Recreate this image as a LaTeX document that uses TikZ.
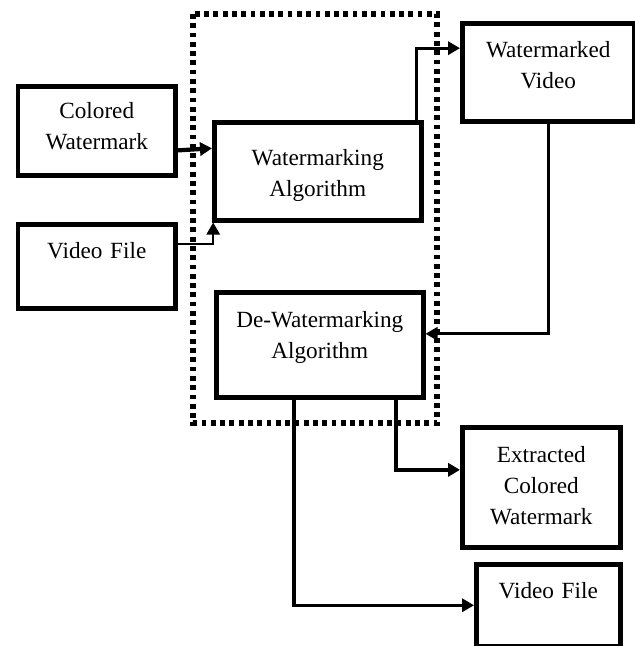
\documentclass[tikz,border=0pt]{standalone}
\usepackage{fontspec}
\setmainfont{Liberation Serif}
\usetikzlibrary{arrows.meta,calc}

\tikzset{
  blk/.style={draw, line width=3.2pt, anchor=north west, align=center, inner sep=0pt,
    font=\fontsize{16.5}{22}\selectfont, text height=0.85cm},
  lnk/.style={line width=2pt, -{Triangle[length=0.3cm,width=0.33cm]}},
  grp/.style={line width=3.6pt, dash pattern=on 3.4pt off 3.2pt},
}

\begin{document}
\begin{tikzpicture}[x=0.025cm, y=-0.025cm]
    \useasboundingbox (0,0) rectangle (635,646);

    % -- Cadre pointille --
    \draw[grp] (193,14) rectangle (437,423);

    % -- Entrees --
    \node[blk, text width=3.925cm, text height=0.8cm, text depth=1.425cm] (cw) at (16,84) {Colored\\Watermark};
    \node[blk, text width=3.925cm, text depth=1.25cm] (vf1) at (16,222) {Video File};

    % -- Algorithmes --
    \node[blk, text width=5.175cm, text height=1.075cm, text depth=1.375cm] (wa) at (212,120) {Watermarking\\Algorithm};
    \node[blk, text width=5.175cm, text height=0.875cm, text depth=1.75cm] (dw) at (214,290) {De-Watermarking\\Algorithm};

    % -- Sorties --
    \node[blk, text width=4.3cm, text depth=1.6cm] (wv) at (460,21) {Watermarked\\Video};
    \node[blk, text width=3.95cm, text height=0.875cm, text depth=2.125cm] (ecw) at (460,425) {Extracted\\Colored\\Watermark};
    \node[blk, text width=3.6cm, text depth=1.2cm] (vf2) at (474,562) {Video File};

    % -- Fleches --
    \draw[lnk, line width=3pt] ($(cw.north east)!0.71!(cw.south east)$) -- ($(wa.north west)!0.276!(wa.south west)$);
    \draw[lnk, line width=1.5pt] ($(vf1.north east)!0.25!(vf1.south east)$) -| ([xshift=0.03cm]wa.south west);
    \draw[lnk] ($(wa.north west)!0.966!(wa.north east)$) |- ($(wv.north west)!0.265!(wv.south west)$);
    \draw[lnk] (wv.south) |- ($(dw.north east)!0.4!(dw.south east)$);
    \draw[lnk, line width=2.5pt] ($(dw.south west)!0.86!(dw.south east)$) |- ($(ecw.north west)!0.36!(ecw.south west)$);
    \draw[lnk, line width=2.5pt] ($(dw.south west)!0.377!(dw.south east)$) |- (vf2.west);
\end{tikzpicture}
\end{document}
